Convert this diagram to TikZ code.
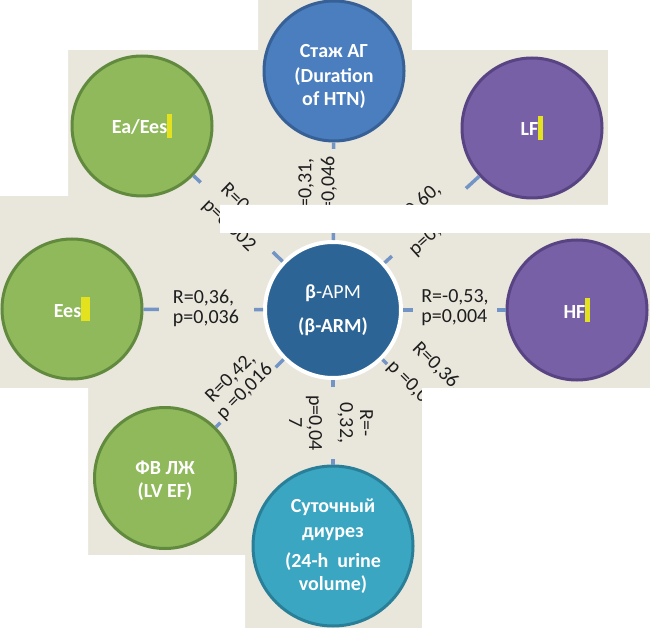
\documentclass[tikz,border=0pt]{standalone}
\usepackage{fontspec}
\setmainfont{Carlito}
\definecolor{paper}{HTML}{E9E6DC}
\definecolor{grfill}{HTML}{8FB95B}
\definecolor{grline}{HTML}{628A3E}
\definecolor{vifill}{HTML}{7860A6}
\definecolor{viline}{HTML}{584482}
\definecolor{blfill}{HTML}{4A7EBE}
\definecolor{blline}{HTML}{366096}
\definecolor{dbfill}{HTML}{2C6495}
\definecolor{tqfill}{HTML}{3AA6C1}
\definecolor{tqline}{HTML}{2A7F98}
\definecolor{connc}{HTML}{7395C6}
\definecolor{markc}{HTML}{E4E21E}
\definecolor{lblc}{HTML}{1E1E1E}
\newcommand{\yelbar}[1][5pt]{\textcolor{markc}{\rule[-4pt]{#1}{24pt}}}
\tikzset{
  ball/.style={circle, line width=3pt, inner sep=0pt, text=white, align=center,
    font=\fontsize{20}{23}\selectfont\bfseries},
  greenball/.style={ball, fill=grfill, draw=grline, minimum size=140pt},
  violetball/.style={ball, fill=vifill, draw=viline, minimum size=140pt},
  conn/.style={draw=connc, line width=3.5pt},
  corr/.style={fill=paper, inner sep=2pt, text=lblc, align=center,
    font=\fontsize{20}{20}\selectfont},
}
\begin{document}
\begin{tikzpicture}[x=1pt, y=-1pt]
\useasboundingbox (0,0) rectangle (650,628);
\fill[paper] (0,0) rectangle (650,628);

\node[ball, fill=dbfill, draw=white, line width=4pt, minimum size=136pt] (arm) at (333,310)
  {β{\mdseries -АРМ}\\[11pt](β-ARM)};
\node[ball, fill=blfill, draw=blline, minimum size=140pt] (st) at (334,71)
  {\rule{0pt}{24pt}Стаж АГ\\[2pt](Duration\\of HTN)};
\node[greenball] (ea) at (142,126) {Ea/Ees\yelbar};
\node[violetball] (lf) at (532,128) {LF\yelbar};
\node[greenball] (ees) at (72,309) {Ees\yelbar[9pt]};
\node[violetball] (hf) at (577,310) {HF\yelbar};
\node[greenball, minimum size=141pt] (fv) at (165,478) {\rule{0pt}{19pt}ФВ ЛЖ\\(LV EF)};
\node[ball, fill=tqfill, draw=tqline, minimum size=160pt] (su) at (333,546)
  {Суточный\\[2pt]диурез\\[7pt](24-h\ \ urine\\volume)};
\coordinate (brend) at (501,478);

\draw[conn] (ea) -- (arm);
\draw[conn] (arm) -- (st);
\draw[conn] (arm) -- (lf);
\draw[conn] (ees) -- (arm);
\draw[conn] (arm) -- (hf);
\draw[conn] (fv) -- (arm);
\draw[conn] (arm) -- (su);
\draw[conn] (arm) -- (brend);

\node[corr, minimum width=100pt, rotate=-44] (lea) at (237,217) {R=0,40,\\[4pt]p=0,002};
\node[corr, minimum width=80pt, rotate=90] (lst) at (318,189) {R=0,31,\\[3pt]p=0,046};
\node[corr, minimum width=100pt, rotate=42] (llf) at (426,219) {R=0,60,\\[11pt]p=0,001};
\node[corr, minimum width=95pt, align=left] (lees) at (206,308) {R=0,36,\\p=0,036};
\node[corr, minimum width=84pt, align=left] (lhf) at (455,308) {R=-0,53,\\p=0,004};
\node[corr, minimum width=78pt, rotate=45] (lfv) at (238,385) {R=0,42,\\p =0,016};
\node[corr, minimum width=72pt, rotate=-90] (lsu) at (331,423) {R=-\\0,32,\\[11pt]p=0,04\\7};
\node[corr, rotate=-45] (lbr) at (426,378) {R=0,36,\\[11pt]p =0,035};

\fill[white] (0,0) -- (258,0) -- (258,50) -- (68,50) -- (68,196) -- (0,196) -- cycle;
\fill[white] (412,0) -- (650,0) -- (650,233) -- (220,233) -- (220,205) -- (608,205) -- (608,50) -- (412,50) -- cycle;
\fill[white] (0,388) -- (88,388) -- (88,555) -- (245,555) -- (245,628) -- (0,628) -- cycle;
\fill[white] (422,388) rectangle (650,628);
\end{tikzpicture}
\end{document}
